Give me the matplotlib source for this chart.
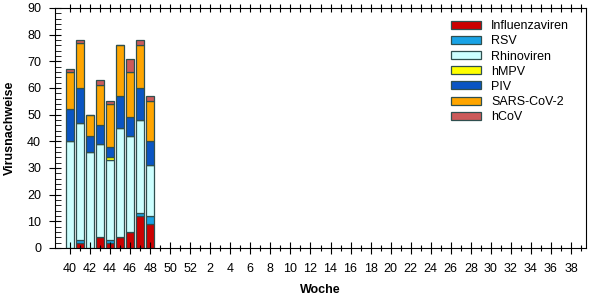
import matplotlib
matplotlib.use('Agg')
import matplotlib.pyplot as plt
from matplotlib.ticker import MultipleLocator

plt.rcParams['font.family'] = ['Liberation Sans', 'DejaVu Sans']

# Kalenderwochen der Saison (40..52, 1..39)
weeks = list(range(40, 53)) + list(range(1, 40))
tick_labels = [str(w) if w % 2 == 0 else '' for w in weeks]

# Nachweise pro Woche (nur KW 40-48 vorhanden)
influenza = [0, 2, 0, 4, 2, 4, 6, 12, 9]
rsv = [0, 1, 0, 0, 1, 0, 0, 1, 3]
rhino = [40, 44, 36, 35, 30, 41, 36, 35, 19]
hmpv = [0, 0, 0, 0, 1, 0, 0, 0, 0]
piv = [12, 13, 6, 7, 4, 12, 7, 12, 9]
sars = [14, 17, 8, 15, 16, 19, 17, 16, 15]
hcov = [1, 1, 0, 2, 1, 0, 5, 2, 2]

series = [
	('Influenzaviren', influenza, '#cc0000'),
	('RSV', rsv, '#19a3e6'),
	('Rhinoviren', rhino, '#ccffff'),
	('hMPV', hmpv, '#ffff00'),
	('PIV', piv, '#0a55c4'),
	('SARS-CoV-2', sars, '#ffa500'),
	('hCoV', hcov, '#cc5a5a'),
]

fig = plt.figure(figsize=(6.02, 3.0), dpi=100)
ax = fig.add_axes([55 / 602, 52 / 300, 531 / 602, 240 / 300])

x = list(range(len(influenza)))
bottom = [0] * len(x)
for name, values, color in series:
	ax.bar(x, values, width=0.75, bottom=bottom, color=color, edgecolor='#2f4f4f',
		   linewidth=0.9, label=name)
	bottom = [b + v for b, v in zip(bottom, values)]

ax.set_xlim(-1.5, 51.5)
ax.set_ylim(0, 90)
ax.set_xticks(range(len(weeks)))
ax.set_xticklabels(tick_labels, fontsize=9)
ax.yaxis.set_major_locator(MultipleLocator(10))
ax.yaxis.set_minor_locator(MultipleLocator(2))
ax.tick_params(axis='y', which='major', direction='inout', length=8, labelsize=9, pad=6)
ax.tick_params(axis='y', which='minor', direction='in', length=4)
ax.tick_params(axis='x', which='major', direction='inout', length=6, pad=8)
ax.tick_params(axis='x', top=True, direction='inout')

for lbl, w in zip(ax.get_xticklines()[::2], weeks):
	lbl.set_markersize(8 if w % 2 == 0 else 5)

ax.set_xlabel('Woche', fontsize=9, fontweight='bold', labelpad=6)
ax.set_ylabel('Virusnachweise', fontsize=9, fontweight='bold', labelpad=8)

ax.legend(loc='upper right', bbox_to_anchor=(0.985, 0.985), frameon=False, fontsize=9,
		  handlelength=2.4, handleheight=0.6, handletextpad=0.8, labelspacing=0.25,
		  borderaxespad=0.3)

fig.savefig('out.png', dpi=100)
